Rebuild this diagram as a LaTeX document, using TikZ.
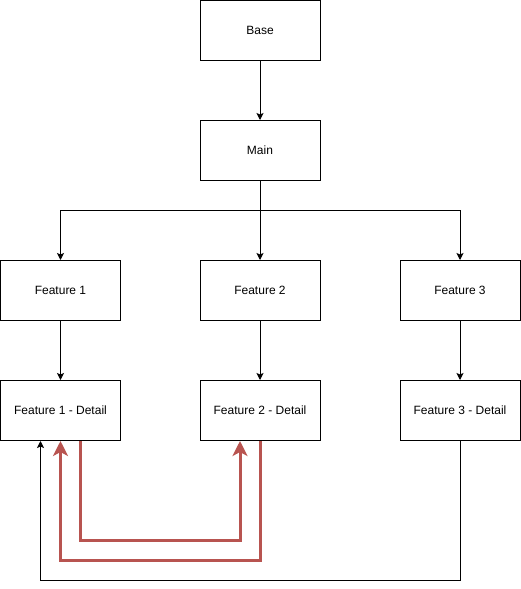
\documentclass[tikz,border=0pt]{standalone}
\usepackage{fontspec}
\setmainfont{Liberation Sans}
\usetikzlibrary{arrows.meta}
\definecolor{redline}{HTML}{B85450}
\begin{document}
\begin{tikzpicture}[x=1pt,y=-1pt,
  box/.style={draw=black,line width=1pt,minimum width=120pt,minimum height=60pt,inner sep=0pt,font=\fontsize{12}{14}\selectfont},
  conn/.style={draw=black,line width=1pt,-{Stealth[length=7pt,width=7pt,inset=1.5pt]}},
  redconn/.style={draw=redline,line width=3pt,-{Stealth[length=15pt,width=15pt,inset=4pt]}}]
\useasboundingbox (0,0) rectangle (521,589);
\node[box] (base) at (260,30.5) {Base};
\node[box] (main) at (260,150.5) {Main};
\node[box] (f1) at (60.5,290.5) {Feature 1};
\node[box] (f2) at (260,290.5) {Feature 2};
\node[box] (f3) at (460,290.5) {Feature 3};
\node[box] (d1) at (60.5,410.5) {Feature 1 - Detail};
\node[box] (d2) at (260,410.5) {Feature 2 - Detail};
\node[box] (d3) at (460,410.5) {Feature 3 - Detail};
\draw[conn] (base) -- (main);
\draw[conn] (main.south) -- (260,210.5) -| (f1.north);
\draw[conn] (main.south) -- (f2.north);
\draw[conn] (main.south) -- (260,210.5) -| (f3.north);
\draw[conn] (f1) -- (d1);
\draw[conn] (f2) -- (d2);
\draw[conn] (f3) -- (d3);
\draw[conn] (d3.south) -- (460,580.5) -| ([xshift=-20pt]d1.south);
\draw[redconn] ([xshift=20pt]d1.south) -- (80.5,540) -| ([xshift=-20pt]d2.south);
\draw[redconn] (d2.south) -- (260,560) -| (d1.south);
\end{tikzpicture}
\end{document}
